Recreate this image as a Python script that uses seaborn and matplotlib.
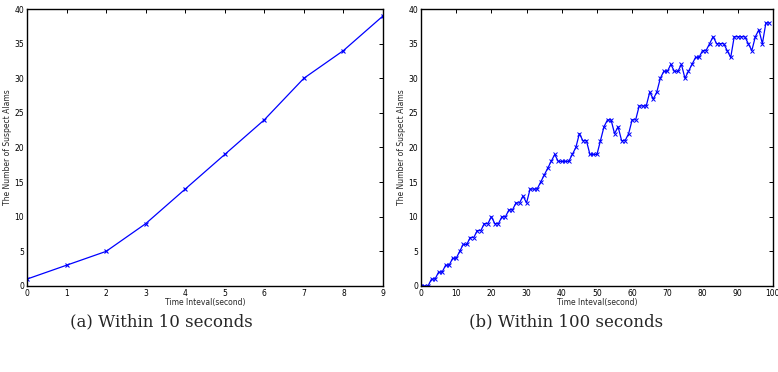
import numpy as np
import pandas as pd
import matplotlib
matplotlib.use("Agg")
import matplotlib.pyplot as plt
import seaborn as sns

# (a) first 10 seconds
time_a = list(range(10))
alarms_a = [1, 3, 5, 9, 14, 19, 24, 30, 34, 39]

# (b) first 100 seconds
time_b = list(range(100))
alarms_b = [0, 0, 0, 1, 1, 2, 2, 3, 3, 4,
            4, 5, 6, 6, 7, 7, 8, 8, 9, 9,
            10, 9, 9, 10, 10, 11, 11, 12, 12, 13,
            12, 14, 14, 14, 15, 16, 17, 18, 19, 18,
            18, 18, 18, 19, 20, 22, 21, 21, 19, 19,
            19, 21, 23, 24, 24, 22, 23, 21, 21, 22,
            24, 24, 26, 26, 26, 28, 27, 28, 30, 31,
            31, 32, 31, 31, 32, 30, 31, 32, 33, 33,
            34, 34, 35, 36, 35, 35, 35, 34, 33, 36,
            36, 36, 36, 35, 34, 36, 37, 35, 38, 38]

captions = ["(a) Within 10 seconds", "(b) Within 100 seconds"]
caption_x = [0.207, 0.7275]

sns.set_style("white")
plt.rcParams['font.family'] = ['DejaVu Sans']

fig = plt.figure(figsize=(7.78, 3.72), dpi=100)
ax1 = fig.add_axes([0.0347, 0.2312, 0.4576, 0.7446])
ax2 = fig.add_axes([0.5411, 0.2312, 0.4524, 0.7446])

df_a = pd.DataFrame({"t": time_a, "n": alarms_a})
df_b = pd.DataFrame({"t": time_b, "n": alarms_b})

blue = "#0000ff"
sns.lineplot(data=df_a, x="t", y="n", ax=ax1, color=blue, marker="x",
             markersize=3.5, markeredgewidth=0.8, mec=blue, linewidth=0.9)
sns.lineplot(data=df_b, x="t", y="n", ax=ax2, color=blue, marker="x",
             markersize=3, markeredgewidth=0.7, mec=blue, linewidth=0.9)

ax1.set_xlim(0, 9)
ax1.set_xticks(range(0, 10))
ax2.set_xlim(0, 100)
ax2.set_xticks(range(0, 101, 10))

for ax, cap, cx in zip([ax1, ax2], captions, caption_x):
    ax.set_ylim(0, 40)
    ax.set_yticks(range(0, 41, 5))
    ax.set_xlabel("Time Inteval(second)", fontsize=5.5, labelpad=0)
    ax.set_ylabel("The Number of Suspect Alams", fontsize=5.5, labelpad=2)
    ax.tick_params(direction="in", length=3, width=0.7, labelsize=5.5,
                   top=True, right=True, pad=2, colors="black")
    for sp in ax.spines.values():
        sp.set_color("black")
        sp.set_linewidth(1.0)
    fig.text(cx, 0.135, cap, ha="center", va="center",
             fontsize=12, family="DejaVu Serif")

fig.savefig("out.png", dpi=100)
